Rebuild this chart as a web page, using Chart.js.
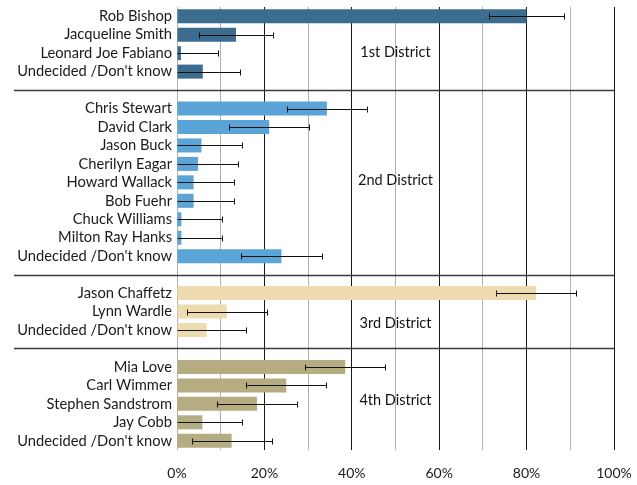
<!DOCTYPE html>
<html>
<head>
<style>
  body { margin: 0; background: #fff; }
</style>
</head>
<body>
    <canvas id="poll" width="637" height="485"></canvas>
    <script src="https://cdn.jsdelivr.net/npm/chart.js@4/dist/chart.umd.min.js"></script>
    <script>
        // candidates per district, support in %, and the margin of error for each district
        const district1Names = ['Rob Bishop', 'Jacqueline Smith', 'Leonard Joe Fabiano', "Undecided /Don't know"];
        const district1Values = [80, 13.5, 0.9, 5.9];
        const district1Error = 8.5;

        const district2Names = ['Chris Stewart', 'David Clark', 'Jason Buck', 'Cherilyn Eagar', 'Howard Wallack', 'Bob Fuehr', 'Chuck Williams', 'Milton Ray Hanks', "Undecided /Don't know"];
        const district2Values = [34.3, 21.1, 5.6, 4.8, 3.8, 3.8, 1.0, 1.0, 23.9];
        const district2Error = 9.2;

        const district3Names = ['Jason Chaffetz', 'Lynn Wardle', "Undecided /Don't know"];
        const district3Values = [82.2, 11.4, 6.8];
        const district3Error = 9.1;

        const district4Names = ['Mia Love', 'Carl Wimmer', 'Stephen Sandstrom', 'Jay Cobb', "Undecided /Don't know"];
        const district4Values = [38.5, 25.0, 18.3, 5.8, 12.5];
        const district4Error = 9.15;

        const districtTitles = ['1st District', '2nd District', '3rd District', '4th District'];
        const xTicks = [0, 20, 40, 60, 80, 100];

        const districtColors = ['#3c6d90', '#5aa4d7', '#eedcb0', '#b6ac82'];

        let districts = [
            {names: district1Names, values: district1Values, err: district1Error},
            {names: district2Names, values: district2Values, err: district2Error},
            {names: district3Names, values: district3Values, err: district3Error},
            {names: district4Names, values: district4Values, err: district4Error}
        ];

        // flatten into one category list, with an empty slot between districts for the divider
        let labels = [], values = [], errors = [], colors = [], spacers = [], titleSpots = [];
        districts.forEach((d, di) => {
            if (di > 0) {
                spacers.push(labels.length);
                labels.push('');
                values.push(null);
                errors.push(null);
                colors.push('transparent');
            }
            let start = labels.length;
            d.names.forEach((n, i) => {
                labels.push(n);
                values.push(d.values[i]);
                errors.push(d.err);
                colors.push(districtColors[di]);
            });
            titleSpots.push({start: start, end: labels.length - 1});
        });
        // where the district name sits inside its block (fraction of the block, tuned by eye)
        const titleOffsets = [0.647, 0.484, 0.81, 0.45];

        const fontName = 'Lato, "Open Sans", sans-serif';

        const pollExtras = {
            id: 'pollExtras',
            afterDatasetsDraw(chart) {
                let ctx = chart.ctx, x = chart.scales.x, y = chart.scales.y, area = chart.chartArea;
                ctx.save();

                // district dividers
                ctx.strokeStyle = '#3a3a3a';
                ctx.lineWidth = 1.5;
                spacers.forEach(i => {
                    let py = Math.round(y.getPixelForValue(i)) + 0.5;
                    ctx.beginPath();
                    ctx.moveTo(14, py);
                    ctx.lineTo(area.right, py);
                    ctx.stroke();
                });

                // error bars
                ctx.strokeStyle = '#111';
                ctx.lineWidth = 1;
                values.forEach((v, i) => {
                    if (v === null) return;
                    let lo = v - errors[i], hi = v + errors[i];
                    let py = Math.round(y.getPixelForValue(i)) + 0.5;
                    let x1 = Math.round(x.getPixelForValue(Math.max(lo, 0))) + 0.5;
                    let x2 = Math.round(x.getPixelForValue(Math.min(hi, 100))) + 0.5;
                    ctx.beginPath();
                    ctx.moveTo(x1, py);
                    ctx.lineTo(x2, py);
                    if (lo > 0) {
                        ctx.moveTo(x1, py - 3);
                        ctx.lineTo(x1, py + 3);
                    }
                    ctx.moveTo(x2, py - 3);
                    ctx.lineTo(x2, py + 3);
                    ctx.stroke();
                });

                // district names
                ctx.fillStyle = '#111';
                ctx.font = '14.5px ' + fontName;
                ctx.textAlign = 'center';
                ctx.textBaseline = 'middle';
                titleSpots.forEach((s, i) => {
                    let pos = s.start + (s.end - s.start) * titleOffsets[i];
                    ctx.fillText(districtTitles[i], x.getPixelForValue(50), y.getPixelForValue(pos));
                });
                ctx.restore();
            }
        };

        let canvas = document.querySelector('#poll');
        let chart = new Chart(canvas.getContext('2d'), {
            type: 'bar',
            data: {
                labels: labels,
                datasets: [{
                    data: values,
                    backgroundColor: colors,
                    borderWidth: 0,
                    barPercentage: 0.76,
                    categoryPercentage: 1
                }]
            },
            options: {
                indexAxis: 'y',
                responsive: false,
                animation: false,
                layout: {padding: {top: 7, right: 23, left: 0, bottom: 0}},
                plugins: {
                    legend: {display: false},
                    tooltip: {enabled: false}
                },
                scales: {
                    x: {
                        min: 0,
                        max: 100,
                        afterFit: s => { s.height = 35; s.paddingLeft = 0; s.paddingRight = 0; },
                        border: {display: false},
                        grid: {
                            drawTicks: false,
                            color: c => (c.tick.value !== 0 && c.tick.value % 20 === 0) ? '#1a1a1a' : '#b0b0b0'
                        },
                        ticks: {
                            stepSize: 10,
                            padding: 15,
                            color: '#1a1a1a',
                            font: {family: fontName, size: 14},
                            callback: v => xTicks.includes(v) ? v + '%' : ''
                        }
                    },
                    y: {
                        afterFit: s => { s.width = 177; s.paddingTop = 0; s.paddingBottom = 0; },
                        border: {display: false},
                        grid: {display: false, drawTicks: false},
                        ticks: {
                            autoSkip: false,
                            padding: 5,
                            color: '#1a1a1a',
                            font: {family: fontName, size: 14.7}
                        }
                    }
                }
            },
            plugins: [pollExtras]
        });
    </script>
</body>
</html>
